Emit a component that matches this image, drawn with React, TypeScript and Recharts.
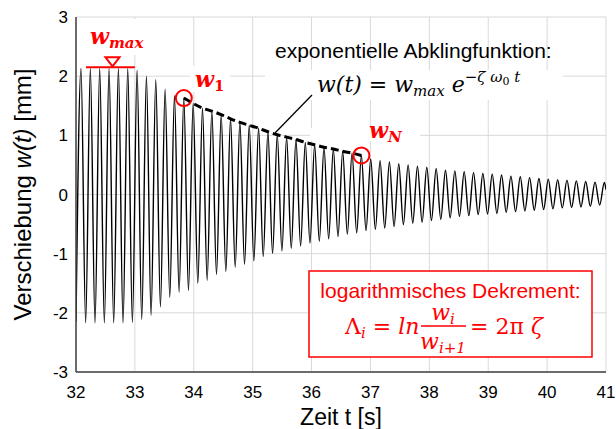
import React from 'react';
import {
  LineChart,
  Line,
  XAxis,
  YAxis,
  CartesianGrid,
  ReferenceDot,
  ReferenceLine,
} from 'recharts';

// Achsen
const xTicks = [32, 33, 34, 35, 36, 37, 38, 39, 40, 41];
const yTicks = [-3, -2, -1, 0, 1, 2, 3];

// Schwingung: Extremwerte (mm)
const period = 0.1587; // s
const firstPeakTime = 32.085;
const firstTroughTime = 32.164;
const startPoint = { t: 32, w: -2.15 };
const endPoint = { t: 41, w: 0.08 };

const peakValues = [
  2.13, 2.13, 2.13, 2.13, 2.13, 2.13, 2.1, 2.0, 1.94, 1.78, 1.67, 1.63, 1.54, 1.46, 1.41,
  1.35, 1.28, 1.22, 1.17, 1.12, 1.06, 1.01, 0.97, 0.93, 0.88, 0.84, 0.8, 0.77, 0.73, 0.7,
  0.66, 0.6, 0.57, 0.55, 0.52, 0.5, 0.48, 0.46, 0.44, 0.41, 0.4, 0.385, 0.37, 0.355, 0.345,
  0.33, 0.31, 0.3, 0.285, 0.27, 0.26, 0.25, 0.243, 0.23, 0.22, 0.21, 0.205,
];

const troughValues = [
  -2.17, -2.17, -2.17, -2.17, -2.17, -2.16, -2.11, -2.04, -1.9, -1.74, -1.65, -1.62, -1.5,
  -1.45, -1.35, -1.3, -1.23, -1.18, -1.12, -1.05, -1.0, -0.95, -0.91, -0.87, -0.82, -0.79,
  -0.75, -0.71, -0.67, -0.65, -0.61, -0.59, -0.565, -0.54, -0.51, -0.485, -0.47, -0.44,
  -0.42, -0.395, -0.37, -0.356, -0.34, -0.33, -0.32, -0.3, -0.29, -0.277, -0.265, -0.254,
  -0.243, -0.226, -0.22, -0.21, -0.2, -0.18,
];

// Markierte Amplituden
const w1Index = 11;
const wNIndex = 30;
const wMaxLevel = 2.15;
const wMaxFrom = 32.17;
const wMaxTo = 33.0;
const wMaxMarker = 32.62;

const peakTime = (k: number) => +(firstPeakTime + k * period).toFixed(4);
const troughTime = (k: number) => +(firstTroughTime + k * period).toFixed(4);

const signal: { t: number; w: number }[] = [startPoint];
peakValues.forEach((w, k) => {
  signal.push({ t: peakTime(k), w });
  if (k < troughValues.length) signal.push({ t: troughTime(k), w: troughValues[k] });
});
signal.push(endPoint);

const envelope = peakValues
  .slice(w1Index, wNIndex + 1)
  .map((w, i) => ({ t: peakTime(w1Index + i), w }));

const RED = '#ff0000';
const SANS = 'Liberation Sans, Arial, sans-serif';
const MATH = 'DejaVu Serif, serif';

const Triangle = (props: any) => {
  const { cx, cy } = props;
  return (
    <path
      d={`M${cx - 7},${cy - 10} L${cx + 7},${cy - 10} L${cx},${cy - 1} Z`}
      fill="#fff"
      stroke={RED}
      strokeWidth={2}
    />
  );
};

function Annotations() {
  return (
    <svg
      width={616}
      height={429}
      style={{ position: 'absolute', left: 0, top: 0, pointerEvents: 'none' }}
    >
      {/* weiße Hintergründe der Textfelder */}
      <rect x={86} y={19} width={56} height={36} fill="#fff" />
      <rect x={190} y={66} width={40} height={26} fill="#fff" />
      <rect x={265} y={70} width={298} height={30} fill="#fff" />
      <rect x={310} y={128} width={110} height={13} fill="#fff" />

      <text x={90} y={44} fill={RED} fontFamily={MATH} fontStyle="italic" fontWeight="bold" fontSize={22}>
        w<tspan fontSize={15} dy={4}>max</tspan>
      </text>
      <text x={195} y={87} fill={RED} fontFamily={MATH} fontStyle="italic" fontWeight="bold" fontSize={22}>
        w<tspan fontSize={15} dy={4} fontStyle="normal">1</tspan>
      </text>
      <text x={369} y={138} fill={RED} fontFamily={MATH} fontStyle="italic" fontWeight="bold" fontSize={22}>
        w<tspan fontSize={15} dy={4}>N</tspan>
      </text>

      <text x={275} y={58} fontFamily={SANS} fontSize={21} fill="#000">
        exponentielle Abklingfunktion:
      </text>
      <text x={317} y={92} fontFamily={MATH} fontStyle="italic" fontSize={22} fill="#000">
        w(t)<tspan fontStyle="normal"> = </tspan>w<tspan fontSize={15} dy={4}>max</tspan>
        <tspan dy={-4}> e</tspan>
        <tspan fontSize={15} dy={-10}>
          <tspan fontStyle="normal">−</tspan>ζ ω<tspan fontSize={11} dy={3} fontStyle="normal">0</tspan>
          <tspan dy={-3}> t</tspan>
        </tspan>
      </text>
      <line x1={275} y1={133} x2={312} y2={95} stroke="#000" strokeWidth={1.3} />

      {/* logarithmisches Dekrement */}
      <rect x={309} y={271} width={283} height={86} fill="#fff" stroke={RED} strokeWidth={1.5} />
      <text x={450.5} y={298} textAnchor="middle" fontFamily={SANS} fontSize={21} fill={RED}>
        logarithmisches Dekrement:
      </text>
      <text x={345} y={334} fontFamily={MATH} fontStyle="italic" fontSize={22} fill={RED}>
        <tspan fontStyle="normal">Λ</tspan>
        <tspan fontSize={15} dy={4}>i</tspan>
        <tspan dy={-4} fontStyle="normal"> = </tspan>
        <tspan>ln</tspan>
      </text>
      <text x={443} y={320} textAnchor="middle" fontFamily={MATH} fontStyle="italic" fontSize={22} fill={RED}>
        w<tspan fontSize={15} dy={4}>i</tspan>
      </text>
      <line x1={421} y1={326} x2={466} y2={326} stroke={RED} strokeWidth={1.5} />
      <text x={443} y={349} textAnchor="middle" fontFamily={MATH} fontStyle="italic" fontSize={22} fill={RED}>
        w<tspan fontSize={15} dy={4}>i+1</tspan>
      </text>
      <text x={470} y={334} fontFamily={MATH} fontStyle="italic" fontSize={22} fill={RED}>
        <tspan fontStyle="normal">= 2π </tspan>ζ
      </text>

      {/* Achsentitel */}
      <text
        transform="rotate(-90)"
        x={-194.5}
        y={31}
        textAnchor="middle"
        fontFamily={SANS}
        fontSize={24}
        fill="#000"
      >
        Verschiebung <tspan fontStyle="italic">w(t)</tspan> [mm]
      </text>
      <text x={341} y={425} textAnchor="middle" fontFamily={SANS} fontSize={23} fill="#000">
        Zeit t [s]
      </text>
    </svg>
  );
}

export default function App() {
  return (
    <div style={{ position: 'absolute', left: 0, top: 0, width: 616, height: 429, background: '#fff' }}>
      <LineChart
        width={616}
        height={429}
        data={signal}
        margin={{ top: 17, right: 10, bottom: 27, left: 36 }}
      >
        <CartesianGrid stroke="#d9d9d9" strokeWidth={1} />
        <XAxis
          dataKey="t"
          type="number"
          domain={[32, 41]}
          ticks={xTicks}
          allowDataOverflow
          height={30}
          tickLine={false}
          tickMargin={8}
          axisLine={{ stroke: '#404040', strokeWidth: 1.5 }}
          tick={{ fill: '#000', fontSize: 17, fontFamily: SANS }}
        />
        <XAxis
          xAxisId="top"
          orientation="top"
          type="number"
          domain={[32, 41]}
          height={0}
          tick={false}
          tickLine={false}
          axisLine={{ stroke: '#404040', strokeWidth: 1.5 }}
        />
        <YAxis
          type="number"
          domain={[-3, 3]}
          ticks={yTicks}
          width={40}
          tickLine={false}
          axisLine={{ stroke: '#404040', strokeWidth: 1.5 }}
          tick={{ fill: '#000', fontSize: 17, fontFamily: SANS }}
        />
        <YAxis
          yAxisId="right"
          orientation="right"
          type="number"
          domain={[-3, 3]}
          width={0}
          tick={false}
          tickLine={false}
          axisLine={{ stroke: '#404040', strokeWidth: 1.5 }}
        />
        <Line
          dataKey="w"
          type="monotone"
          stroke="#000"
          strokeWidth={1.4}
          dot={false}
          isAnimationActive={false}
        />
        <Line
          data={envelope}
          dataKey="w"
          type="monotone"
          stroke="#000"
          strokeWidth={3}
          strokeDasharray="8 4"
          dot={false}
          isAnimationActive={false}
        />
        <ReferenceLine
          segment={[
            { x: wMaxFrom, y: wMaxLevel },
            { x: wMaxTo, y: wMaxLevel },
          ]}
          stroke={RED}
          strokeWidth={2}
        />
        <ReferenceDot x={wMaxMarker} y={wMaxLevel} r={7} shape={Triangle} />
        <ReferenceDot
          x={peakTime(w1Index)}
          y={peakValues[w1Index]}
          r={8}
          fill="none"
          stroke={RED}
          strokeWidth={2}
        />
        <ReferenceDot
          x={peakTime(wNIndex)}
          y={peakValues[wNIndex]}
          r={8}
          fill="none"
          stroke={RED}
          strokeWidth={2}
        />
      </LineChart>
      <Annotations />
    </div>
  );
}
